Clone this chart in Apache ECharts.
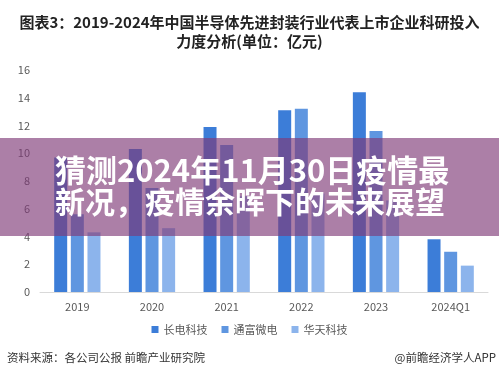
<!DOCTYPE html>
<html>
<head>
<meta charset="utf-8">
<script src="https://cdn.jsdelivr.net/npm/echarts@6/dist/echarts.min.js"></script>
<style>
  html, body { margin: 0; padding: 0; background: #fff; }
  #main { width: 499px; height: 377px; }
</style>
</head>
<body>
<div id="main"></div>
<script>
// 年份
var years = ['2019', '2020', '2021', '2022', '2023', '2024Q1'];
// 三家企业研发投入(亿元)
var jcet = [9.7, 10.3, 11.9, 13.1, 14.4, 3.8];
var tfme = [5.6, 7.5, 10.6, 13.2, 11.6, 2.9];
var huatian = [4.3, 4.6, 6.9, 7.1, 6.6, 1.9];
var seriesNames = ['长电科技', '通富微电', '华天科技'];
var yTicks = [0, 2, 4, 6, 8, 10, 12, 14, 16];

var font = '"Noto Sans CJK SC", "Microsoft YaHei", sans-serif';

var chart = echarts.init(document.getElementById('main'));

var option = {
  backgroundColor: '#fff',
  animation: false,
  textStyle: { fontFamily: font },
  title: {
    text: '图表3：2019-2024年中国半导体先进封装行业代表上市企业科研投入\n力度分析(单位：亿元)',
    left: 'center',
    top: 8,
    textStyle: { fontSize: 15, fontWeight: 'bold', color: '#222', lineHeight: 19, fontFamily: font }
  },
  legend: {
    data: seriesNames,
    bottom: 37,
    left: 'center',
    icon: 'rect',
    itemWidth: 7,
    itemHeight: 7,
    itemGap: 14,
    textStyle: { fontSize: 11, color: '#595959', fontFamily: font }
  },
  grid: { left: 40, right: 11, top: 70, bottom: 85 },
  xAxis: {
    type: 'category',
    data: years,
    axisLine: { lineStyle: { color: '#d9d9d9' } },
    axisTick: { show: false },
    axisLabel: { color: '#595959', fontSize: 11, margin: 9 }
  },
  yAxis: {
    type: 'value',
    min: yTicks[0],
    max: yTicks[yTicks.length - 1],
    interval: 2,
    axisLine: { show: false },
    axisTick: { show: false },
    splitLine: { show: false },
    axisLabel: { color: '#595959', fontSize: 11, margin: 10 }
  },
  series: [
    { name: seriesNames[0], type: 'bar', data: jcet, barWidth: 13, barGap: '28%', itemStyle: { color: '#3c7dd8' } },
    { name: seriesNames[1], type: 'bar', data: tfme, barWidth: 13, barGap: '28%', itemStyle: { color: '#5f96e0' } },
    { name: seriesNames[2], type: 'bar', data: huatian, barWidth: 13, barGap: '28%', itemStyle: { color: '#8cb4ec' } }
  ],
  graphic: [
    // 横幅
    {
      type: 'rect', z: 100,
      shape: { x: 0, y: 138, width: 499, height: 98 },
      style: { fill: 'rgba(128,58,120,0.65)' }
    },
    {
      type: 'text', z: 101, left: 55, top: 155,
      style: { text: '猜测2024年11月30日疫情最', fill: '#fff', font: 'bold 31px ' + font }
    },
    {
      type: 'text', z: 101, left: 55, top: 187,
      style: { text: '新况，疫情余晖下的未来展望', fill: '#fff', font: 'bold 30px ' + font }
    },
    // 底部来源
    {
      type: 'text', left: 7, top: 352,
      style: { text: '资料来源：各公司公报 前瞻产业研究院', fill: '#333', font: '11.5px ' + font }
    },
    {
      type: 'text', right: 3, top: 352,
      style: { text: '@前瞻经济学人APP', fill: '#333', font: '11.5px ' + font }
    }
  ]
};

chart.setOption(option);
</script>
</body>
</html>
